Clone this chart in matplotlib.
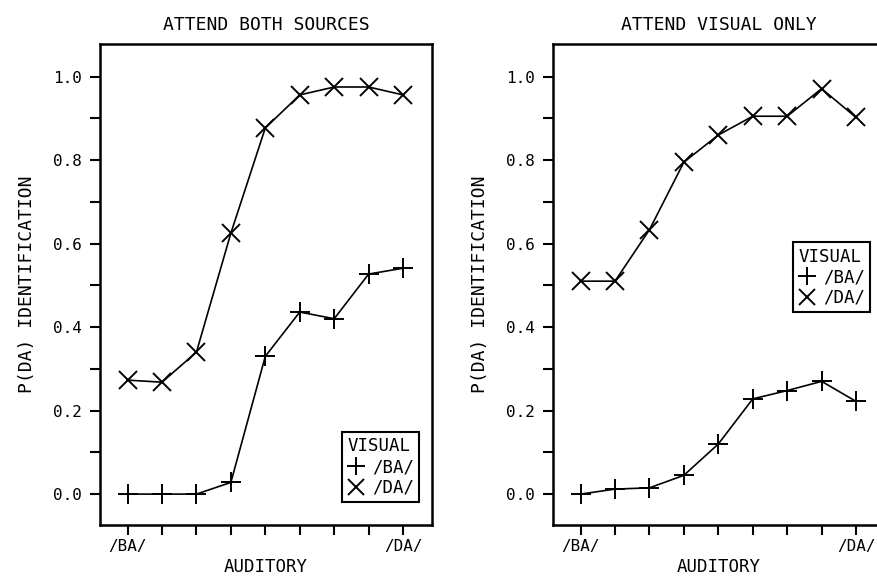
import matplotlib
matplotlib.use("Agg")
import matplotlib.pyplot as plt
from matplotlib.ticker import MultipleLocator

# ---- data ----
steps = [1, 2, 3, 4, 5, 6, 7, 8, 9]
xtick_labels = ["/BA/", "", "", "", "", "", "", "", "/DA/"]

both_ba = [0.00, 0.00, 0.00, 0.028, 0.33, 0.436, 0.42, 0.527, 0.541]
both_da = [0.273, 0.268, 0.34, 0.625, 0.877, 0.956, 0.975, 0.975, 0.956]

vis_ba = [0.00, 0.012, 0.015, 0.045, 0.12, 0.228, 0.248, 0.27, 0.222]
vis_da = [0.51, 0.51, 0.633, 0.795, 0.86, 0.905, 0.905, 0.971, 0.902]

titles = ["ATTEND BOTH SOURCES", "ATTEND VISUAL ONLY"]
ylabel = "P(DA) IDENTIFICATION"
xlabel = "AUDITORY"
legend_title = "VISUAL"
legend_labels = ["/BA/", "/DA/"]

plt.rcParams['font.family'] = ['DejaVu Sans Mono']

fig = plt.figure(figsize=(8.78, 5.76), dpi=100)
ax1 = fig.add_axes([100/878, 1-525/576, 332/878, 481/576])
ax2 = fig.add_axes([553/878, 1-525/576, 332/878, 481/576])

panels = [
    (ax1, both_ba, both_da, (0.961, 0.048)),
    (ax2, vis_ba, vis_da, (0.955, 0.443)),
]

for i, (ax, ba, da, anchor) in enumerate(panels):
    ax.plot(steps, ba, color='black', lw=1.2, marker='+', ms=15, mew=1.4,
            label=legend_labels[0])
    ax.plot(steps, da, color='black', lw=1.2, marker='x', ms=13, mew=1.4,
            label=legend_labels[1])
    ax.set_xlim(0.2, 9.84)
    ax.set_ylim(-0.074, 1.078)
    ax.set_xticks(steps)
    ax.set_xticklabels(xtick_labels, fontsize=11.5)
    ax.yaxis.set_minor_locator(MultipleLocator(0.1))
    ax.set_yticks([0.0, 0.2, 0.4, 0.6, 0.8, 1.0])
    ax.set_yticklabels(["0.0", "0.2", "0.4", "0.6", "0.8", "1.0"], fontsize=11.5)
    ax.tick_params(axis='both', which='both', direction='out', width=1.5,
                   color='black', labelcolor='black')
    ax.tick_params(axis='x', which='major', length=7, pad=3)
    ax.tick_params(axis='y', which='major', length=7, pad=6)
    ax.tick_params(axis='y', which='minor', length=7)
    for s in ax.spines.values():
        s.set_linewidth(1.8)
    ax.set_title(titles[i], fontsize=13, pad=10)
    ax.set_ylabel(ylabel, fontsize=13, labelpad=12)
    ax.set_xlabel(xlabel, fontsize=12.5, labelpad=3)
    leg = ax.legend(title=legend_title, loc="lower right", bbox_to_anchor=anchor,
                    fontsize=12.5, title_fontsize=12.5, frameon=True,
                    fancybox=False, edgecolor='black', handlelength=1.0,
                    handletextpad=0.4, borderpad=0.3, labelspacing=0.15,
                    borderaxespad=0.0, markerscale=0.9, framealpha=1.0)
    leg.get_frame().set_linewidth(1.5)
    leg._legend_box.align = "left"
    for h in leg.legend_handles:
        h.set_linestyle('none')

fig.savefig("out.png", dpi=100)
